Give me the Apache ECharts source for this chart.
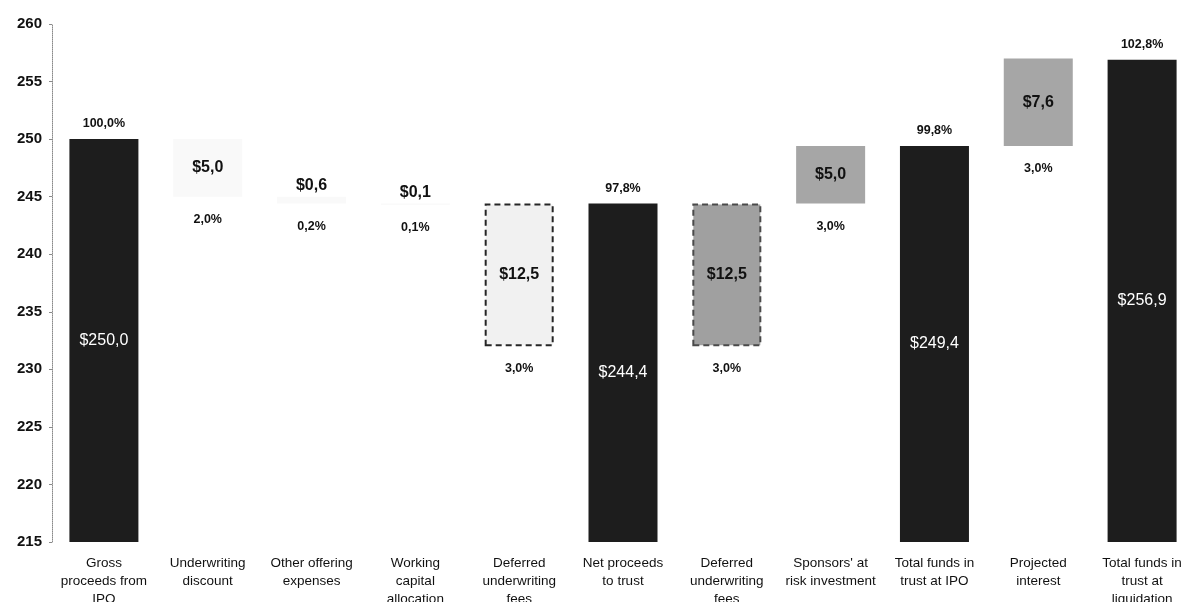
<!DOCTYPE html>
<html>
<head>
<meta charset="utf-8">
<script src="https://cdn.jsdelivr.net/npm/echarts@6/dist/echarts.min.js"></script>
<style>
  html, body { margin: 0; padding: 0; background: #fff; }
  #chart { width: 1185px; height: 602px; }
</style>
</head>
<body>
<div id="chart"></div>
<script>
// categories along the x axis
const categories = [
  'Gross\nproceeds from\nIPO',
  'Underwriting\ndiscount',
  'Other offering\nexpenses',
  'Working\ncapital\nallocation',
  'Deferred\nunderwriting\nfees',
  'Net proceeds\nto trust',
  'Deferred\nunderwriting\nfees',
  "Sponsors' at\nrisk investment",
  'Total funds in\ntrust at IPO',
  'Projected\ninterest',
  'Total funds in\ntrust at\nliquidation'
]
// bar bottoms (0 = bar starts at the axis) and tops, in $ millions
const barLow  = [0, 245, 244.4, 244.3, 232, 0, 232, 244.4, 0, 249.4, 0]
const barHigh = [250, 250, 245, 244.4, 244.4, 244.4, 244.4, 249.4, 249.4, 257, 256.9]
// texts
const valueLabels = ['$250,0', '$5,0', '$0,6', '$0,1', '$12,5', '$244,4', '$12,5', '$5,0', '$249,4', '$7,6', '$256,9']
const pctLabels   = ['100,0%', '2,0%', '0,2%', '0,1%', '3,0%', '97,8%', '3,0%', '3,0%', '99,8%', '3,0%', '102,8%']
const pctSide     = ['top', 'bottom', 'bottom', 'bottom', 'bottom', 'top', 'bottom', 'bottom', 'top', 'bottom', 'top']
// bar kind: total / light / dash / gray
const barKind = ['total', 'light', 'light', 'light', 'dash', 'total', 'grayDash', 'gray', 'total', 'gray', 'total']

const styles = {
  total:    { color: '#1d1d1d' },
  light:    { color: '#f9f9f9' },
  dash:     { color: '#f1f1f1', borderColor: '#262626', borderWidth: 2, borderType: [6, 4] },
  grayDash: { color: '#a0a0a0', borderColor: '#4a4a4a', borderWidth: 2, borderType: [6, 4] },
  gray:     { color: '#a6a6a6' }
}

const FONT = 'Liberation Sans, Arial, sans-serif'

const chart = echarts.init(document.getElementById('chart'))

const visible = barHigh.map((h, i) => {
  const kind = barKind[i]
  const above = i === 2 || i === 3
  return {
    value: +(h - barLow[i]).toFixed(2),
    itemStyle: styles[kind],
    label: {
      show: true,
      position: above ? 'top' : 'inside',
      distance: 3,
      formatter: valueLabels[i],
      color: kind === 'total' ? '#ffffff' : '#111111',
      fontWeight: kind === 'total' ? 'normal' : 'bold',
      fontSize: 16,
      fontFamily: FONT
    }
  }
})

const pctMarks = pctLabels.map((t, i) => ({
  value: pctSide[i] === 'top' ? barHigh[i] : barLow[i],
  label: {
    show: true,
    position: pctSide[i],
    distance: pctSide[i] === 'top' ? 9 : 16,
    formatter: t,
    color: '#111111',
    opacity: 1,
    fontSize: 12.5,
    fontWeight: 'bold',
    fontFamily: FONT
  }
}))

const option = {
  animation: false,
  grid: { left: 52, top: 24, bottom: 60, width: 1142, outerBoundsMode: 'none', containLabel: false },
  xAxis: {
    type: 'category',
    data: categories,
    axisLine: { show: false },
    axisTick: { show: false },
    axisLabel: {
      interval: 0,
      margin: 12,
      color: '#111111',
      fontSize: 13.5,
      lineHeight: 18,
      fontFamily: FONT
    }
  },
  yAxis: {
    type: 'value',
    min: 215,
    max: 260,
    interval: 5,
    axisLine: { show: true, lineStyle: { color: '#8a8a8a', type: 'dotted', width: 1 } },
    axisTick: { show: true, length: 3, lineStyle: { color: '#8a8a8a' } },
    splitLine: { show: false },
    axisLabel: {
      margin: 10,
      color: '#111111',
      fontSize: 15,
      fontWeight: 'bold',
      fontFamily: FONT
    }
  },
  series: [
    {
      name: 'base',
      type: 'bar',
      stack: 'w',
      barWidth: 69,
      silent: true,
      itemStyle: { color: 'transparent' },
      data: barLow
    },
    {
      name: 'amount',
      type: 'bar',
      stack: 'w',
      barWidth: 69,
      data: visible
    },
    {
      name: 'share',
      type: 'scatter',
      symbolSize: 0,
      itemStyle: { color: '#111111', opacity: 1 },
      z: 5,
      data: pctMarks
    }
  ]
}

chart.setOption(option)
window.addEventListener('resize', () => chart.resize())
</script>
</body>
</html>
